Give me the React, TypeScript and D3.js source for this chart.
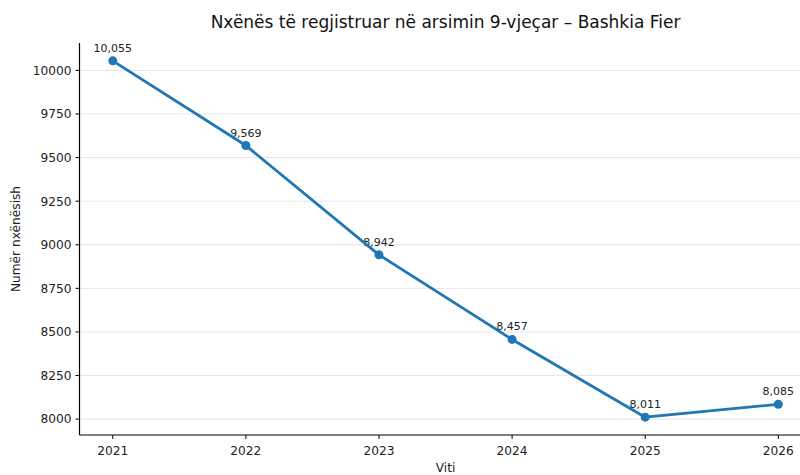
import React from "react";
import * as d3 from "d3";

const years = [2021, 2022, 2023, 2024, 2025, 2026];
const students = [10055, 9569, 8942, 8457, 8011, 8085];
const yTicks = [8000, 8250, 8500, 8750, 9000, 9250, 9500, 9750, 10000];
const title = "Nxënës të regjistruar në arsimin 9-vjeçar – Bashkia Fier";

const W = 800, H = 475;
const left = 79.5, right = 811.6, top = 43, bottom = 435;

export default function App() {
  const x = d3.scaleLinear().domain([2020.75, 2026.25]).range([left, right]);
  const y = d3.scaleLinear().domain([7908.8, 10157.2]).range([bottom, top]);
  const line = d3.line<number>().x((_, i) => x(years[i])).y((d) => y(d));
  const fmt = d3.format(",");
  const font = "DejaVu Sans, sans-serif";
  return (
    <svg width={W} height={H} style={{ position: "absolute", left: 0, top: 0 }} fontFamily={font}>
      <rect width={W} height={H} fill="white" />
      {yTicks.map((t) => (
        <line key={"g" + t} x1={left} x2={right} y1={y(t)} y2={y(t)} stroke="#e6e6e6" strokeWidth={1} />
      ))}
      {students.map((v, i) => (
        <text key={"l" + i} x={x(years[i])} y={y(v) - 9} textAnchor="middle" fontSize={11} fill="#222">
          {fmt(v)}
        </text>
      ))}
      <path d={line(students) || ""} fill="none" stroke="#1f77b4" strokeWidth={2.8} strokeLinejoin="round" />
      {students.map((v, i) => (
        <circle key={"c" + i} cx={x(years[i])} cy={y(v)} r={4.5} fill="#1f77b4" />
      ))}
      <line x1={left} x2={left} y1={top} y2={bottom} stroke="black" strokeWidth={1.2} />
      <line x1={left} x2={right} y1={bottom} y2={bottom} stroke="black" strokeWidth={1.2} />
      {yTicks.map((t) => (
        <g key={"yt" + t}>
          <line x1={left - 4} x2={left} y1={y(t)} y2={y(t)} stroke="black" strokeWidth={1} />
          <text x={left - 8} y={y(t)} dy="0.36em" textAnchor="end" fontSize={12.2} fill="#222">
            {t}
          </text>
        </g>
      ))}
      {years.map((yr) => (
        <g key={"xt" + yr}>
          <line x1={x(yr)} x2={x(yr)} y1={bottom} y2={bottom + 4} stroke="black" strokeWidth={1} />
          <text x={x(yr)} y={bottom + 20} textAnchor="middle" fontSize={12.2} fill="#222">
            {yr}
          </text>
        </g>
      ))}
      <text x={(left + right) / 2} y={472} textAnchor="middle" fontSize={12.2} fill="#222">Viti</text>
      <text transform={`translate(20,${(top + bottom) / 2}) rotate(-90)`} textAnchor="middle" fontSize={12.2} fill="#222">
        Numër nxënësish
      </text>
      <text x={(left + right) / 2} y={28} textAnchor="middle" fontSize={17} fill="#111">{title}</text>
    </svg>
  );
}
